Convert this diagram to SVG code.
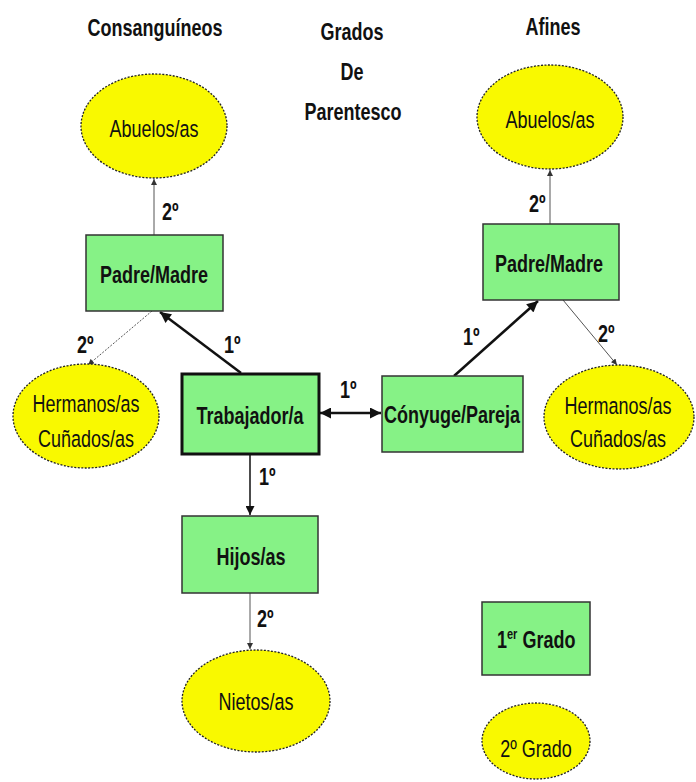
<svg xmlns="http://www.w3.org/2000/svg" width="696" height="782" viewBox="0 0 696 782">
<style>
text{font-family:"Liberation Sans",Arial,sans-serif;font-size:18px;fill:#111}
.b{font-weight:bold}
.m{text-anchor:middle}
.box{fill:#86f286;stroke:#333;stroke-width:1.5}
.ell{fill:#f9f900;stroke:#222;stroke-width:1.3;stroke-dasharray:2 1.5}
.thick{stroke:#111;stroke-width:2.5;fill:none}
.med{stroke:#111;stroke-width:1.5;fill:none}
.thin{stroke:#555;stroke-width:1;fill:none}
</style>
<defs>
<marker id="ah" viewBox="0 0 10 10" refX="10" refY="5" markerWidth="13" markerHeight="11" markerUnits="userSpaceOnUse" orient="auto-start-reverse"><path d="M0,0 L10,5 L0,10 z" fill="#111"/></marker>
<marker id="am" viewBox="0 0 10 10" refX="10" refY="5" markerWidth="12" markerHeight="9" markerUnits="userSpaceOnUse" orient="auto"><path d="M0,0 L10,5 L0,10 z" fill="#111"/></marker>
<marker id="as" viewBox="0 0 10 10" refX="10" refY="5" markerWidth="7" markerHeight="6" markerUnits="userSpaceOnUse" orient="auto"><path d="M0,0 L10,5 L0,10 z" fill="#333"/></marker>
</defs>

<g id="titles">
<text class="b m" transform="translate(155,36) scale(1,1.35)">Consanguíneos</text>
<text class="b m" transform="translate(352,40) scale(1,1.35)">Grados</text>
<text class="b m" transform="translate(352,80) scale(1,1.35)">De</text>
<text class="b m" transform="translate(353,120) scale(1,1.35)">Parentesco</text>
<text class="b m" transform="translate(553,35) scale(1,1.35)">Afines</text>
</g>

<g id="connectors">
<line class="thin" x1="154" y1="235" x2="154" y2="179" marker-end="url(#as)"/>
<line class="thick" x1="241" y1="373" x2="160" y2="312" marker-end="url(#ah)"/>
<line class="thin" x1="152" y1="311" x2="88" y2="365" stroke-dasharray="2 1.5" marker-end="url(#as)"/>
<line class="thick" x1="320" y1="413" x2="381" y2="413" marker-start="url(#ah)" marker-end="url(#ah)"/>
<line class="thick" x1="454" y1="376" x2="538" y2="301" marker-end="url(#ah)"/>
<line class="thin" x1="550" y1="224" x2="550" y2="170" marker-end="url(#as)"/>
<line class="thin" x1="563" y1="300" x2="617" y2="365" marker-end="url(#as)"/>
<line class="med" x1="250" y1="454" x2="250" y2="515" marker-end="url(#am)"/>
<line class="thin" x1="250" y1="593" x2="250" y2="649" marker-end="url(#as)"/>
<text class="b" transform="translate(162,220) scale(1,1.35)">2º</text>
<text class="b" transform="translate(77,353) scale(1,1.35)">2º</text>
<text class="b" transform="translate(224,353) scale(1,1.35)">1º</text>
<text class="b" transform="translate(340,398) scale(1,1.35)">1º</text>
<text class="b" transform="translate(529,212) scale(1,1.35)">2º</text>
<text class="b" transform="translate(463,345) scale(1,1.35)">1º</text>
<text class="b" transform="translate(598,342) scale(1,1.35)">2º</text>
<text class="b" transform="translate(259,485) scale(1,1.35)">1º</text>
<text class="b" transform="translate(257,627) scale(1,1.35)">2º</text>
</g>

<g id="abuelos-c">
<ellipse class="ell" cx="154" cy="126" rx="73" ry="52"/>
<text class="m" transform="translate(154,137) scale(1,1.35)">Abuelos/as</text>
</g>
<g id="padre-c">
<rect class="box" x="86" y="235" width="137" height="76"/>
<text class="b m" transform="translate(154,283) scale(1,1.35)">Padre/Madre</text>
</g>
<g id="hermanos-c">
<ellipse class="ell" cx="86" cy="416" rx="73" ry="52"/>
<text class="m" transform="translate(86,412) scale(1,1.35)">Hermanos/as</text>
<text class="m" transform="translate(86,447) scale(1,1.35)">Cuñados/as</text>
</g>
<g id="trabajador">
<rect x="182" y="374" width="137" height="80" fill="#86f286" stroke="#111" stroke-width="3"/>
<text class="b m" transform="translate(250,424) scale(1,1.35)">Trabajador/a</text>
</g>
<g id="conyuge">
<rect class="box" x="382" y="376" width="141" height="76"/>
<text class="b m" transform="translate(452,423) scale(1,1.35)">Cónyuge/Pareja</text>
</g>
<g id="abuelos-a">
<ellipse class="ell" cx="550" cy="117" rx="73" ry="52"/>
<text class="m" transform="translate(550,128) scale(1,1.35)">Abuelos/as</text>
</g>
<g id="padre-a">
<rect class="box" x="483" y="224" width="136" height="76"/>
<text class="b m" transform="translate(549,272) scale(1,1.35)">Padre/Madre</text>
</g>
<g id="hermanos-a">
<ellipse class="ell" cx="619" cy="417" rx="75" ry="52"/>
<text class="m" transform="translate(618,414) scale(1,1.35)">Hermanos/as</text>
<text class="m" transform="translate(618,447) scale(1,1.35)">Cuñados/as</text>
</g>
<g id="hijos">
<rect class="box" x="182" y="516" width="136" height="77"/>
<text class="b m" transform="translate(251,565) scale(1,1.35)">Hijos/as</text>
</g>
<g id="nietos">
<ellipse class="ell" cx="256" cy="701" rx="74" ry="51"/>
<text class="m" transform="translate(256,710) scale(1,1.35)">Nietos/as</text>
</g>
<g id="legend-1">
<rect class="box" x="482" y="602" width="108" height="73"/>
<text class="b" transform="translate(497,648) scale(1,1.35)">1<tspan font-size="11" dy="-7">er</tspan><tspan dy="7"> Grado</tspan></text>
</g>
<g id="legend-2">
<ellipse class="ell" cx="536" cy="741" rx="54" ry="38"/>
<text class="m" transform="translate(536,757) scale(1,1.35)">2º Grado</text>
</g>
</svg>
